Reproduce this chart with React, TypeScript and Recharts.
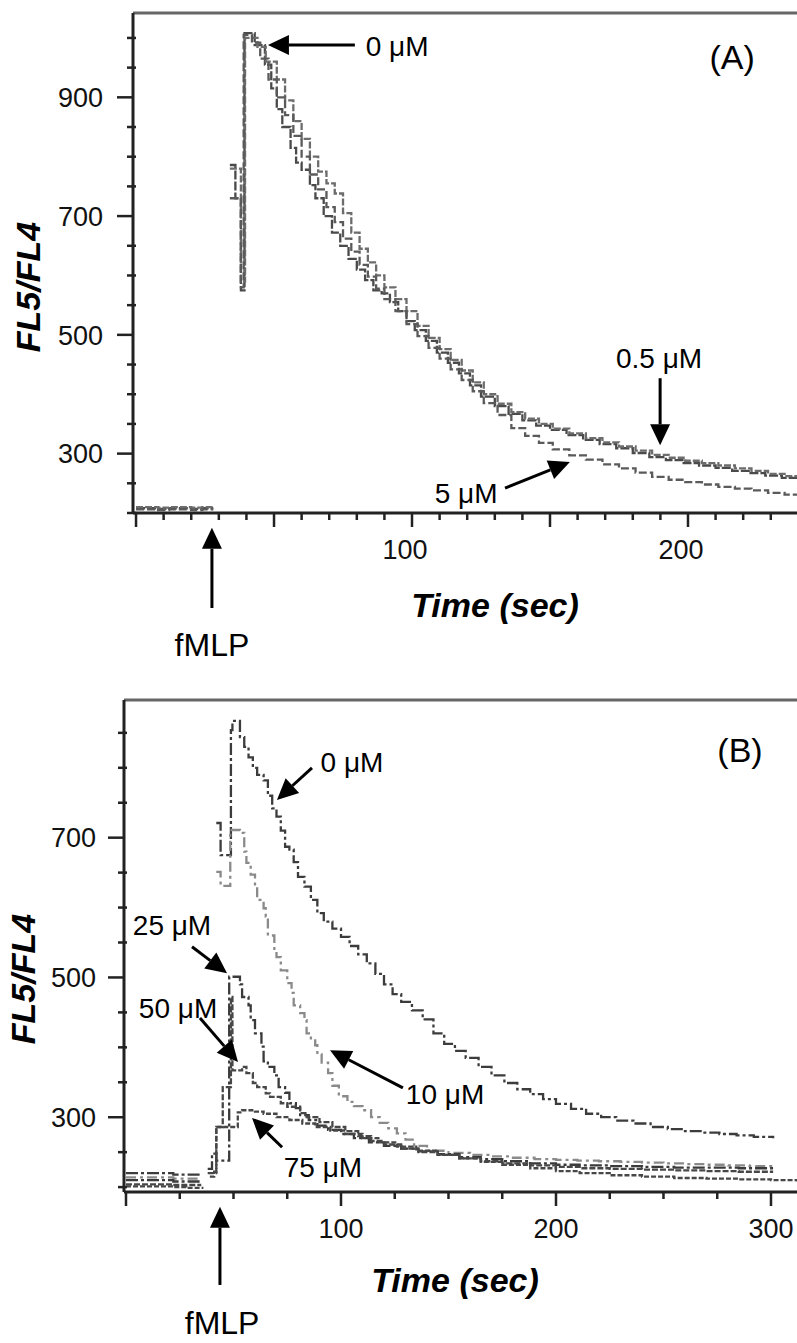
import React from 'react';
import { LineChart, Line, XAxis, YAxis, ReferenceLine, ReferenceDot } from 'recharts';

const FONT = '"Liberation Sans", Arial, Helvetica, sans-serif';

// ---------- panel A : time (sec) and FL5/FL4 readings ----------
const timeA0 = [0, 4, 8, 12, 16, 20, 24, 28, 31, 34, 36, 38, 39.3, 43, 46.7, 49, 51, 53, 56, 58, 60, 63, 65, 68, 71, 74, 77, 80, 83, 86, 89, 92, 95, 98, 101, 105, 109, 113, 117, 121, 125, 130, 135, 140, 145, 150, 156, 162, 168, 174, 180, 186, 192, 198, 204, 210, 216, 222, 228, 234, 241];
const flA0 = [208, 208, 207, 208, 208, 207, 208, 208, null, 786, 730, 575, 1008, 988, 955, 915, 880, 850, 815, 790, 778, 752, 730, 700, 672, 650, 628, 610, 592, 575, 570, 555, 540, 523, 508, 490, 470, 453, 435, 415, 396, 380, 367, 356, 347, 340, 331, 323, 316, 309, 301, 294, 289, 284, 280, 276, 271, 267, 263, 259, 255];

const timeA05 = [0, 4, 8, 12, 16, 20, 24, 28, 31, 34, 38, 39.5, 44, 47, 51, 54, 57, 60, 63, 66, 69, 72, 75, 78, 81, 84, 87, 90, 94, 98, 102, 106, 110, 114, 118, 122, 126, 131, 136, 141, 146, 151, 157, 163, 169, 175, 181, 187, 193, 199, 205, 211, 217, 223, 229, 235, 241];
const flA05 = [210, 210, 209, 210, 210, 209, 210, 210, null, 780, 590, 1000, 985, 960, 930, 895, 860, 830, 800, 775, 755, 738, 705, 672, 645, 622, 600, 580, 560, 540, 515, 495, 476, 458, 440, 420, 400, 384, 370, 359, 350, 342, 334, 326, 319, 312, 305, 298, 293, 288, 284, 280, 275, 271, 266, 262, 258];

const timeA5 = [0, 4, 8, 12, 16, 20, 24, 28, 31, 34, 38, 39, 42, 45, 48, 51, 54, 57, 60, 63, 66, 69, 72, 75, 78, 81, 84, 87, 90, 94, 98, 102, 106, 110, 114, 118, 122, 126, 131, 136, 141, 146, 151, 157, 163, 169, 175, 181, 187, 193, 199, 205, 211, 217, 223, 229, 235, 241];
const flA5 = [206, 206, 205, 206, 206, 205, 206, 206, null, 730, 580, 1005, 992, 965, 930, 900, 870, 835, 800, 770, 745, 715, 690, 662, 640, 618, 598, 578, 560, 540, 518, 498, 478, 460, 442, 424, 405, 385, 365, 343, 330, 318, 307, 297, 290, 282, 275, 268, 261, 256, 252, 248, 244, 241, 238, 234, 231, 227];

const xTicksA = [0, 10, 20, 30, 40, 50, 60, 70, 80, 90, 100, 110, 120, 130, 140, 150, 160, 170, 180, 190, 200, 210, 220, 230];
const xMajorA = [0, 50, 100, 150, 200];
const xLabelsA = [100, 200];
const yTicksA = [200, 250, 300, 350, 400, 450, 500, 550, 600, 650, 700, 750, 800, 850, 900, 950, 1000];
const yLabelsA = [300, 500, 700, 900];

// ---------- panel B ----------
const timeB0 = [0, 5, 10, 15, 22, 26, 30, 35, 38, 42, 44, 48.8, 49.5, 53, 55, 57, 59, 61, 64, 66, 68, 70, 72, 74, 76, 78, 80, 83, 86, 89, 92, 96, 100, 104, 108, 112, 116, 120, 124, 128, 133, 138, 143, 148, 153, 158, 164, 170, 176, 182, 188, 194, 200, 207, 214, 221, 228, 236, 244, 252, 260, 268, 276, 284, 292, 301];
const flB0 = [220, 220, 220, 220, 218, 218, 218, 218, null, 721, 675, 854, 867, 844, 830, 815, 800, 790, 782, 760, 742, 730, 710, 687, 683, 665, 644, 630, 611, 592, 580, 570, 558, 545, 533, 520, 505, 490, 476, 465, 453, 440, 420, 405, 395, 385, 372, 360, 349, 340, 333, 326, 319, 312, 305, 300, 295, 291, 286, 283, 280, 278, 276, 274, 272, 270];

const timeB10 = [0, 5, 10, 15, 22, 26, 30, 35, 38, 42, 44, 48.5, 53, 55, 56, 58, 60, 61, 64, 65, 66, 69, 70, 72, 75, 77, 78, 81, 83, 84, 86, 88, 89, 91, 94, 96, 99, 103, 106, 110, 114, 118, 122, 126, 130, 134, 140, 150, 160, 170, 180, 190, 200, 210, 220, 230, 240, 250, 260, 270, 280, 290, 301];
const flB10 = [214, 214, 214, 214, 212, 212, 212, 212, null, 651, 631, 711, 707, 680, 664, 647, 630, 611, 599, 587, 560, 539, 529, 510, 492, 478, 460, 449, 439, 420, 410, 403, 390, 378, 363, 345, 330, 322, 316, 310, 300, 292, 284, 277, 268, 259, 252, 249, 246, 244, 242, 240, 239, 238, 237, 236, 235, 234, 233, 232, 231, 230, 229];

const timeB25 = [0, 5, 10, 15, 22, 26, 30, 35, 36.5, 38, 40, 42, 48, 53, 54, 57, 58, 60, 63, 64, 66, 69, 71, 74, 76, 79, 81, 85, 89, 94, 100, 106, 113, 120, 128, 136, 145, 155, 165, 175, 188, 200, 211, 225, 240, 255, 270, 285, 301];
const flB25 = [210, 210, 210, 210, 208, 208, 208, 208, null, 226, 248, 238, 501, 490, 472, 460, 439, 420, 401, 380, 372, 360, 343, 335, 320, 313, 303, 296, 288, 282, 276, 270, 264, 259, 255, 251, 247, 243, 240, 237, 234, 232, 231, 230, 229, 228, 228, 227, 227];

const timeB50 = [0, 5, 10, 15, 22, 26, 30, 35, 36.5, 38, 42, 45, 48.8, 49.5, 54, 56, 59, 61, 65, 67, 72, 75, 81, 84, 90, 96, 102, 108, 114, 120, 128, 136, 145, 155, 165, 175, 188, 200, 211, 225, 240, 255, 270, 285, 301];
const flB50 = [204, 204, 204, 204, 203, 203, 203, 203, null, 220, 286, 343, 472, 367, 372, 363, 349, 343, 334, 329, 320, 315, 306, 300, 293, 286, 280, 273, 266, 261, 255, 250, 246, 241, 237, 234, 231, 229, 227, 226, 225, 224, 223, 222, 222];

const timeB75 = [0, 5, 10, 15, 22, 28, 32, 36, 37.5, 39, 41, 42, 50, 52, 54, 60, 64, 70, 76, 82, 88, 95, 102, 110, 118, 126, 135, 145, 155, 165, 175, 188, 200, 211, 225, 240, 255, 270, 285, 300, 312];
const flB75 = [201, 201, 201, 201, 200, 199, 199, 199, null, 215, 222, 286, 286, 307, 310, 308, 305, 300, 296, 291, 286, 281, 276, 270, 264, 258, 252, 246, 241, 236, 232, 227, 223, 220, 217, 215, 213, 212, 211, 210, 208];

const xTicksB = [0, 25, 50, 75, 100, 125, 150, 175, 200, 225, 250, 275, 300];
const xMajorB = [0, 100, 200, 300];
const xLabelsB = [100, 200, 300];
const yTicksB = [200, 250, 300, 350, 400, 450, 500, 550, 600, 650, 700, 750, 800, 850];
const yLabelsB = [300, 500, 700];

type Pair = [number, number];
type Arrow = { from: Pair; to: Pair };
type Note = { at: Pair; text: string; size: number };
type Series = { name: string; t: number[]; v: (number | null)[]; color: string; dash: string };

const toPoints = (t: number[], v: (number | null)[]) => t.map((x, i) => ({ t: x, v: v[i] }));

// annotation arrows, in data units (sec, FL5/FL4)
const arrowsA: Arrow[] = [
  { from: [79.3, 988], to: [47.8, 988] },
  { from: [189.9, 427], to: [189.9, 314] },
  { from: [133.7, 242], to: [157.2, 286] },
  { from: [27.5, 40], to: [27.5, 175] },
];
const notesA: Note[] = [
  { at: [94.6, 986], text: '0 \u03bcM', size: 28 },
  { at: [189.5, 461], text: '0.5 \u03bcM', size: 28 },
  { at: [119.6, 234], text: '5 \u03bcM', size: 28 },
  { at: [27.5, -22], text: 'fMLP', size: 32 },
  { at: [216, 968], text: '(A)', size: 34 },
];
const arrowsB: Arrow[] = [
  { from: [86.5, 800], to: [70.2, 754] },
  { from: [128.8, 342], to: [94.9, 396] },
  { from: [30.7, 544], to: [47, 506] },
  { from: [34.4, 442], to: [52.1, 379] },
  { from: [72.6, 257], to: [58.6, 299] },
  { from: [43.7, 60], to: [43.7, 172] },
];
const notesB: Note[] = [
  { at: [105.1, 808], text: '0 \u03bcM', size: 28 },
  { at: [148.4, 333], text: '10 \u03bcM', size: 28 },
  { at: [21.4, 575], text: '25 \u03bcM', size: 28 },
  { at: [24.2, 456], text: '50 \u03bcM', size: 28 },
  { at: [91.6, 229], text: '75 \u03bcM', size: 28 },
  { at: [44.7, 6], text: 'fMLP', size: 32 },
  { at: [285.6, 825], text: '(B)', size: 34 },
];

const seriesA: Series[] = [
  { name: '0 \u03bcM', t: timeA0, v: flA0, color: '#4a4a4a', dash: '9 2' },
  { name: '0.5 \u03bcM', t: timeA05, v: flA05, color: '#6c6c6c', dash: '7 2' },
  { name: '5 \u03bcM', t: timeA5, v: flA5, color: '#5a5a5a', dash: '8 3' },
];
const seriesB: Series[] = [
  { name: '0 \u03bcM', t: timeB0, v: flB0, color: '#3c3c3c', dash: '12 3 3 3' },
  { name: '10 \u03bcM', t: timeB10, v: flB10, color: '#8a8a8a', dash: '10 4 3 4' },
  { name: '25 \u03bcM', t: timeB25, v: flB25, color: '#3a3a3a', dash: '12 3 3 3' },
  { name: '50 \u03bcM', t: timeB50, v: flB50, color: '#474747', dash: '6 2' },
  { name: '75 \u03bcM', t: timeB75, v: flB75, color: '#474747', dash: '5 2' },
];

const arrowShape = (p: any) => {
  const { x1, y1, x2, y2 } = p;
  const dx = x2 - x1;
  const dy = y2 - y1;
  const len = Math.hypot(dx, dy) || 1;
  const ux = dx / len;
  const uy = dy / len;
  const hl = 21;
  const hw = 10;
  const bx = x2 - ux * hl;
  const by = y2 - uy * hl;
  return (
    <g>
      <line x1={x1} y1={y1} x2={bx} y2={by} stroke="#000" strokeWidth={3} />
      <polygon
        points={`${x2},${y2} ${bx - uy * hw},${by + ux * hw} ${bx + uy * hw},${by - ux * hw}`}
        fill="#000"
      />
    </g>
  );
};

function makeYTick(labels: number[], gap: number) {
  return (props: any) => {
    const { x, y, payload } = props;
    const v = payload.value;
    const major = labels.includes(v);
    return (
      <g>
        {major ? (
          <line x1={x - 16} y1={y} x2={x} y2={y} stroke="#222" strokeWidth={2.5} />
        ) : (
          <line x1={x - 6} y1={y} x2={x + 3} y2={y} stroke="#222" strokeWidth={2.5} />
        )}
        {major && (
          <text x={x - gap} y={y} dy="0.36em" textAnchor="end" fontSize={27} fontFamily={FONT} fill="#111">
            {v}
          </text>
        )}
      </g>
    );
  };
}

function makeXTick(majors: number[], labels: number[], shift: number, base: number) {
  return (props: any) => {
    const { x, y, payload } = props;
    const v = payload.value;
    const major = majors.includes(v);
    return (
      <g>
        <line x1={x} y1={y} x2={x} y2={y + (major ? 14 : 7)} stroke="#222" strokeWidth={2.5} />
        {labels.includes(v) && (
          <text x={x + shift} y={y + base} textAnchor="middle" fontSize={27} fontFamily={FONT} fill="#111">
            {v}
          </text>
        )}
      </g>
    );
  };
}

type PanelProps = {
  height: number;
  top: number;
  bottom: number;
  yWidth: number;
  xHeight: number;
  xDomain: Pair;
  yDomain: Pair;
  xTicks: number[];
  xMajor: number[];
  xLabels: number[];
  xShift: number;
  yTicks: number[];
  yLabels: number[];
  yGap: number;
  series: Series[];
  arrows: Arrow[];
  notes: Note[];
  xTitle: { offset: number; dx: number };
  yTitle: { dx: number; dy: number };
};

function Panel(p: PanelProps) {
  const titleStyle = { fontSize: 34, fontWeight: 'bold', fontStyle: 'italic', fill: '#000', fontFamily: FONT };
  return (
    <LineChart width={797} height={p.height} margin={{ top: p.top, right: 0, bottom: p.bottom, left: 0 }} style={{ fontFamily: FONT }}>
      <XAxis
        type="number"
        dataKey="t"
        domain={p.xDomain}
        allowDataOverflow
        ticks={p.xTicks}
        interval={0}
        tickSize={0}
        tickMargin={0}
        tickLine={false}
        tick={makeXTick(p.xMajor, p.xLabels, p.xShift, 46)}
        axisLine={{ stroke: '#222', strokeWidth: 3 }}
        height={p.xHeight}
        label={{ value: 'Time (sec)', position: 'insideBottom', offset: p.xTitle.offset, dx: p.xTitle.dx, ...titleStyle }}
      />
      <YAxis
        type="number"
        domain={p.yDomain}
        allowDataOverflow
        ticks={p.yTicks}
        interval={0}
        tickSize={0}
        tickMargin={0}
        tickLine={false}
        tick={makeYTick(p.yLabels, p.yGap)}
        axisLine={{ stroke: '#222', strokeWidth: 3 }}
        width={p.yWidth}
        label={{ value: 'FL5/FL4', angle: -90, position: 'center', dx: p.yTitle.dx, dy: p.yTitle.dy, ...titleStyle }}
      />
      <ReferenceLine y={p.yDomain[1]} stroke="#666" strokeWidth={3} ifOverflow="visible" />
      {p.series.map((s) => (
        <Line
          key={s.name}
          name={s.name}
          data={toPoints(s.t, s.v)}
          dataKey="v"
          type="stepAfter"
          stroke={s.color}
          strokeWidth={2.3}
          strokeDasharray={s.dash}
          dot={false}
          activeDot={false}
          isAnimationActive={false}
        />
      ))}
      {p.arrows.map((a, i) => (
        <ReferenceLine
          key={`arrow-${i}`}
          segment={[{ x: a.from[0], y: a.from[1] }, { x: a.to[0], y: a.to[1] }]}
          ifOverflow="visible"
          shape={arrowShape}
        />
      ))}
      {p.notes.map((n, i) => (
        <ReferenceDot
          key={`note-${i}`}
          x={n.at[0]}
          y={n.at[1]}
          r={0}
          fill="none"
          stroke="none"
          ifOverflow="visible"
          label={{ value: n.text, position: 'center', fontSize: n.size, fill: '#000', fontFamily: FONT }}
        />
      ))}
    </LineChart>
  );
}

export default function App() {
  return (
    <div style={{ position: 'absolute', left: 0, top: 0, width: 797, height: 1343, background: '#fff', fontFamily: FONT }}>
      <div style={{ position: 'absolute', left: 0, top: 0 }}>
        <Panel
          height={680}
          top={13}
          bottom={20}
          yWidth={133}
          xHeight={147}
          xDomain={[-1.1, 239.5]}
          yDomain={[200, 1042]}
          xTicks={xTicksA}
          xMajor={xMajorA}
          xLabels={xLabelsA}
          xShift={-7}
          yTicks={yTicksA}
          yLabels={yLabelsA}
          yGap={30}
          series={seriesA}
          arrows={arrowsA}
          notes={notesA}
          xTitle={{ offset: 43, dx: 30 }}
          yTitle={{ dx: -38.5, dy: 24 }}
        />
      </div>
      <div style={{ position: 'absolute', left: 0, top: 660 }}>
        <Panel
          height={683}
          top={40}
          bottom={0}
          yWidth={124}
          xHeight={151}
          xDomain={[-0.93, 312.1]}
          yDomain={[193, 897]}
          xTicks={xTicksB}
          xMajor={xMajorB}
          xLabels={xLabelsB}
          xShift={0}
          yTicks={yTicksB}
          yLabels={yLabelsB}
          yGap={28}
          series={seriesB}
          arrows={arrowsB}
          notes={notesB}
          xTitle={{ offset: 51, dx: -5.5 }}
          yTitle={{ dx: -39, dy: 33 }}
        />
      </div>
    </div>
  );
}
